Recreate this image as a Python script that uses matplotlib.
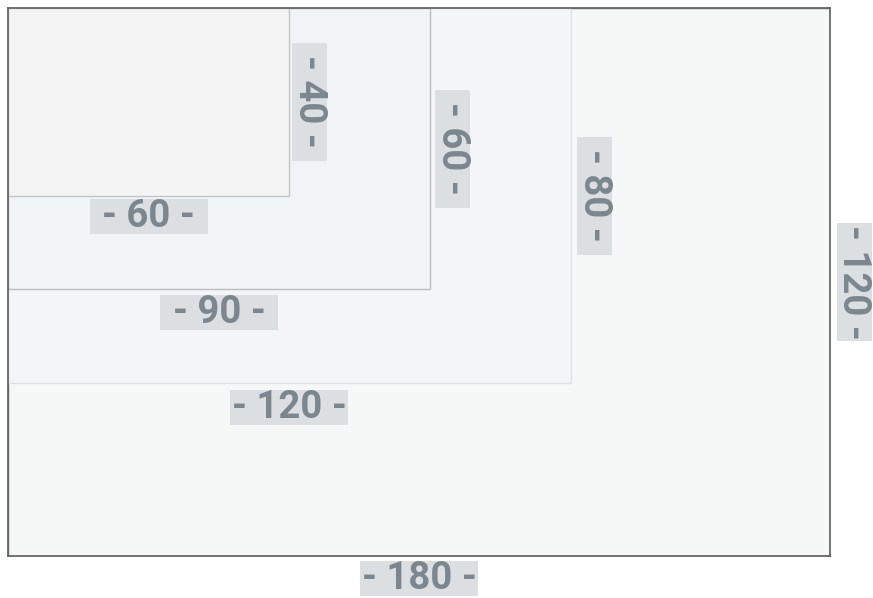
import matplotlib
matplotlib.use("Agg")
import matplotlib.pyplot as plt
from matplotlib.patches import Rectangle
from matplotlib.transforms import ScaledTranslation

# nested sheet sizes (width x height), largest first
widths = [180, 120, 90, 60]
heights = [120, 80, 60, 40]
fills = ["#f6f8f8", "#f3f5f8", "#f1f4f7", "#f4f4f4"]
edges = ["#666666", "#dde1e4", "#b9bdc1", "#c4c4c4"]

plt.rcParams["font.family"] = ["Roboto", "DejaVu Sans"]

fig = plt.figure(figsize=(8.73, 5.98), dpi=100)
ax = fig.add_axes([8 / 873, 42 / 598, 822 / 873, 548 / 598])

px = 4.69  # pixels per unit
xmax = 822 / px
ymax = 548 / px
ax.set_xlim(0, xmax)
ax.set_ylim(ymax, 0)
ax.set_xticks([])
ax.set_yticks([])
for s in ax.spines.values():
    s.set_color("#666666")
    s.set_linewidth(1.3)
    s.set_zorder(10)

box_c = "#dcdfe2"
txt_c = "#7b868e"
bw, bh = 1.18, 0.35  # label box, inches

for i, (w, h) in enumerate(zip(widths, heights)):
    ax.add_patch(Rectangle((0, 0), w, h, facecolor=fills[i], edgecolor=edges[i],
                           linewidth=1.0, zorder=i + 1))

    vw = min(w, xmax)
    vh = min(h, ymax)
    if i == 0:
        gx, gy = 0.07, 0.05
    else:
        gx, gy = 0.0005 * w, 0.0009 * h

    # width label under the rectangle
    t = fig.dpi_scale_trans + ScaledTranslation(vw / 2, vh, ax.transData)
    ax.add_patch(Rectangle((-bw / 2, -gy - bh), bw, bh, facecolor=box_c,
                           edgecolor="none", transform=t, clip_on=False, zorder=20))
    ax.text(0, -gy - bh / 2, f"- {w} -", transform=t, ha="center", va="center",
            fontsize=27.5, fontweight="bold", color=txt_c, clip_on=False, zorder=21)

    # height label right of the rectangle
    t = fig.dpi_scale_trans + ScaledTranslation(vw, vh / 2, ax.transData)
    ax.add_patch(Rectangle((gx, -bw / 2), bh, bw, facecolor=box_c,
                           edgecolor="none", transform=t, clip_on=False, zorder=20))
    ax.text(gx + bh / 2 - (0.01 if i == 0 else 0), 0, f"- {h} -", transform=t,
            ha="center", va="center", rotation=-90, fontsize=27.5,
            fontweight="bold", color=txt_c, clip_on=False, zorder=21)

fig.savefig("out.png", dpi=100)
